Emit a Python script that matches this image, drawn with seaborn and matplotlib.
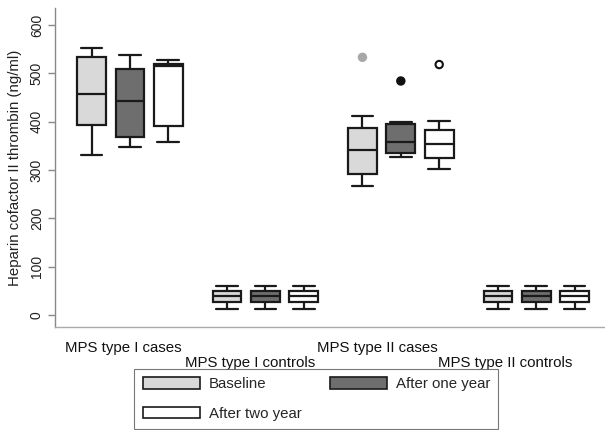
import numpy as np
import pandas as pd
import matplotlib
matplotlib.use("Agg")
import matplotlib.pyplot as plt
from matplotlib.patches import Patch
import seaborn as sns

groups = ["MPS type I cases", "MPS type I controls", "MPS type II cases", "MPS type II controls"]
times = ["Baseline", "After one year", "After two year"]

# five-number summaries (whisker low, q1, median, q3, whisker high), group-major, time-minor
whisker_low = [331, 348, 358, 12, 12, 12, 266, 327, 301, 12, 12, 12]
q1 = [392, 368, 390, 26, 27, 26, 292, 336, 325, 26, 27, 26]
median = [457, 443, 514, 39, 40, 39, 341, 358, 354, 39, 40, 39]
q3 = [533, 508, 519, 50, 49, 50, 386, 395, 383, 50, 49, 50]
whisker_high = [552, 538, 527, 60, 60, 60, 411, 399, 401, 60, 60, 60]

outlier_group = ["MPS type II cases", "MPS type II cases", "MPS type II cases"]
outlier_time = ["Baseline", "After one year", "After two year"]
outlier_value = [533, 484, 518]

box_colors = {"Baseline": "#d9d9d9", "After one year": "#6e6e6e", "After two year": "#ffffff"}
out_face = {"Baseline": "#a8a8a8", "After one year": "#111111", "After two year": "#ffffff"}
out_edge = {"Baseline": "#a8a8a8", "After one year": "#111111", "After two year": "#111111"}

rows = []
k = 0
for g in groups:
    for t in times:
        for v in (whisker_low[k], q1[k], median[k], q3[k], whisker_high[k]):
            rows.append({"group": g, "time": t, "value": v})
        k += 1
df = pd.DataFrame(rows)

sns.set_style("white")
plt.rcParams["font.family"] = ["Liberation Sans", "DejaVu Sans"]

W, H = 605, 430
fig = plt.figure(figsize=(W / 100, H / 100), dpi=100)
ax = fig.add_axes([55 / W, 1 - 327 / H, (604 - 55) / W, (327 - 8) / H])

dodge_w = 0.85
n_lines_before = len(ax.lines)
sns.boxplot(data=df, x="group", y="value", hue="time", order=groups, hue_order=times,
            palette=box_colors, width=dodge_w, gap=0.25, whis=np.inf, showfliers=False,
            linecolor="#1a1a1a", linewidth=1.6, legend=False, ax=ax)

# widen whisker caps (horizontal lines shorter than the box width)
box_w = dodge_w / 3 * (1 - 0.25)
for ln in ax.lines[n_lines_before:]:
    xd = np.asarray(ln.get_xdata(), dtype=float)
    yd = np.asarray(ln.get_ydata(), dtype=float)
    if len(xd) == 2 and yd[0] == yd[1]:
        span = abs(xd[1] - xd[0])
        if 0 < span < 0.8 * box_w:
            c = xd.mean()
            half = span * 0.75
            ln.set_xdata([c - half, c + half])

# outliers
ox = [groups.index(g) + (times.index(t) - 1) * dodge_w / 3 for g, t in zip(outlier_group, outlier_time)]
sns.scatterplot(x=ox, y=outlier_value, hue=outlier_time, hue_order=times, palette=out_face,
                s=28, legend=False, ax=ax, zorder=5)
coll = ax.collections[-1]
coll.set_edgecolors([out_edge[t] for t in outlier_time])
coll.set_linewidths(1.5)

ax.set_xlim(-0.553, 3.5)
ax.set_ylim(-25, 635)
ax.set_yticks(range(0, 601, 100))
ax.set_xticks(range(len(groups)))
ax.set_xticklabels([""] * len(groups))
ax.tick_params(axis="x", length=0)
ax.tick_params(axis="y", direction="out", length=5, width=1, color="#888888",
               labelsize=10, pad=3, labelrotation=90, left=True, labelcolor="#222222")
for lab in ax.get_yticklabels():
    lab.set_va("center")
ax.set_xlabel("")
ax.set_ylabel("Heparin cofactor II thrombin (ng/ml)", fontsize=10.8, labelpad=6, color="#222222")

for s in ["top", "right"]:
    ax.spines[s].set_visible(False)
ax.spines["left"].set_color("#888888")
ax.spines["bottom"].set_color("#aaaaaa")
ax.spines["left"].set_linewidth(1)
ax.spines["bottom"].set_linewidth(1)

trans = ax.get_xaxis_transform()
axh = 327 - 8
for i, g in enumerate(groups):
    yoff = 21 if i % 2 == 0 else 36
    ax.text(i * 0.94 - 0.05, -yoff / axh, g, transform=trans, ha="center", va="center",
            fontsize=10.8, color="#111111")

order = [0, 2, 1]
handles = [Patch(facecolor=box_colors[times[i]], edgecolor="#1a1a1a", linewidth=1.2) for i in order]
labels = [times[i] for i in order]
leg = fig.legend(handles, labels, ncol=2, loc="upper center", bbox_to_anchor=(0.523, 1 - 369 / H),
                 frameon=True, fancybox=False, edgecolor="#555555", fontsize=10.8,
                 handlelength=3.8, handleheight=0.8, handletextpad=0.6, columnspacing=1.9,
                 labelspacing=1.03, borderpad=0.55, borderaxespad=0)
leg.get_frame().set_linewidth(0.8)

fig.savefig("out.png", dpi=100)
